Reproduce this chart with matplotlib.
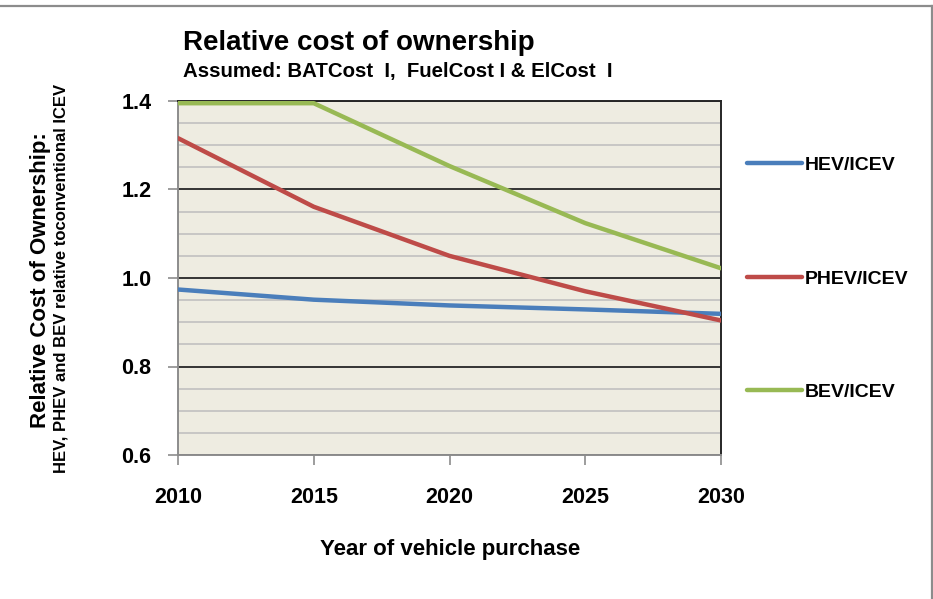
import matplotlib
matplotlib.use("Agg")
import matplotlib.pyplot as plt
from matplotlib.lines import Line2D
from matplotlib.ticker import MultipleLocator, FormatStrFormatter

# Relative cost of ownership vs. conventional ICEV
YEARS = [2010, 2015, 2020, 2025, 2030]
HEV = [0.974, 0.951, 0.938, 0.929, 0.919]
PHEV = [1.316, 1.161, 1.050, 0.970, 0.904]
BEV = [1.395, 1.395, 1.253, 1.124, 1.022]

SERIES = [("HEV/ICEV", HEV, "#4A7EBB"),
          ("PHEV/ICEV", PHEV, "#BE4B48"),
          ("BEV/ICEV", BEV, "#98B954")]

plt.rcParams["font.family"] = ["Liberation Sans", "DejaVu Sans"]
plt.rcParams["font.weight"] = "bold"

W, H = 933, 599
fig = plt.figure(figsize=(W / 100, H / 100), dpi=100)

# chart-area frame (top and right edges only)
fig.add_artist(Line2D([0, 931.5 / W], [1 - 6 / H, 1 - 6 / H], transform=fig.transFigure,
                      color="#8c8c8c", linewidth=1.6))
fig.add_artist(Line2D([931.5 / W, 931.5 / W], [0, 1 - 6 / H], transform=fig.transFigure,
                      color="#8c8c8c", linewidth=1.6))

ax = fig.add_axes([178 / W, 1 - 455 / H, 543 / W, 354 / H])
ax.set_facecolor("#EEECE1")

lines = []
for label, vals, color in SERIES:
    ln, = ax.plot(YEARS, vals, color=color, linewidth=3.2, solid_capstyle="round",
                  label=label, zorder=4)
    lines.append(ln)

ax.set_xlim(2010, 2030)
ax.set_ylim(0.6, 1.4)
ax.xaxis.set_major_locator(MultipleLocator(5))
ax.yaxis.set_major_locator(MultipleLocator(0.2))
ax.yaxis.set_minor_locator(MultipleLocator(0.05))
ax.yaxis.set_major_formatter(FormatStrFormatter("%.1f"))

ax.grid(axis="y", which="minor", color="#bdbdbd", linewidth=1.1, zorder=1)
ax.grid(axis="y", which="major", color="#262626", linewidth=1.3, zorder=2)
ax.set_axisbelow(True)

ax.tick_params(axis="both", which="major", length=7, width=1.2, color="#8c8c8c",
               labelsize=15.5)
ax.tick_params(axis="x", pad=16)
ax.tick_params(axis="y", pad=12)
ax.tick_params(axis="y", which="minor", length=0)
for lbl in ax.get_xticklabels() + ax.get_yticklabels():
    lbl.set_fontweight("bold")

ax.spines["left"].set_color("#8c8c8c")
ax.spines["bottom"].set_color("#8c8c8c")
ax.spines["top"].set_color("#262626")
ax.spines["right"].set_color("#262626")
for sp in ax.spines.values():
    sp.set_linewidth(1.4)

fig.text(450 / W, 1 - 550 / H, "Year of vehicle purchase", fontsize=16,
         fontweight="bold", ha="center", va="center")

fig.text(183 / W, 1 - 43 / H, "Relative cost of ownership", fontsize=20,
         fontweight="bold", ha="left", va="center")
fig.text(183 / W, 1 - 72 / H, "Assumed: BATCost  I,  FuelCost I & ElCost  I",
         fontsize=14.7, fontweight="bold", ha="left", va="center")

fig.text(41 / W, 1 - 280 / H, "Relative Cost of Ownership:", fontsize=16,
         fontweight="bold", rotation=90, ha="center", va="center")
fig.text(61 / W, 1 - 278 / H, "HEV, PHEV and BEV relative toconventional ICEV",
         fontsize=12, fontweight="bold", rotation=90, ha="center", va="center")

leg = fig.legend(handles=lines, loc="upper left", bbox_to_anchor=(0.7815, 0.768),
                 frameon=False, fontsize=14, handlelength=2.85, handletextpad=0.15,
                 labelspacing=4.93)
for t in leg.get_texts():
    t.set_fontweight("bold")

fig.savefig("out.png", dpi=100)
